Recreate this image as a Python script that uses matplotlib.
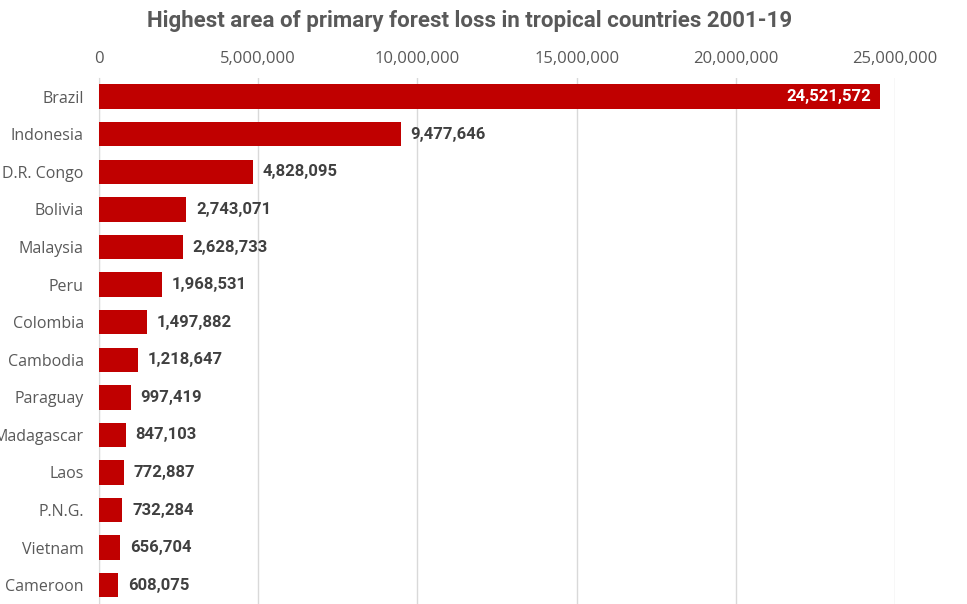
import matplotlib.pyplot as plt
from matplotlib.ticker import FuncFormatter

countries = ['Brazil', 'Indonesia', 'D.R. Congo', 'Bolivia', 'Malaysia', 'Peru',
             'Colombia', 'Cambodia', 'Paraguay', 'Madagascar', 'Laos', 'P.N.G.',
             'Vietnam', 'Cameroon']
loss = [24521572, 9477646, 4828095, 2743071, 2628733, 1968531, 1497882,
        1218647, 997419, 847103, 772887, 732284, 656704, 608075]
xticks = [0, 5000000, 10000000, 15000000, 20000000, 25000000]

red = '#C00000'
grey = '#595959'

fig = plt.figure(figsize=(9.67, 6.04), dpi=100)
ax = fig.add_axes([0.1024, 0.0, 0.8232, 0.871])

y = list(range(len(countries)))
ax.barh(y, loss, height=0.65, color=red, zorder=3)
ax.set_ylim(len(countries) - 0.5, -0.5)
ax.set_xlim(0, 25000000)

ax.set_xticks(xticks)
ax.xaxis.set_major_formatter(FuncFormatter(lambda v, p: f'{int(v):,}'))
ax.xaxis.tick_top()
ax.tick_params(axis='x', length=0, pad=8, labelsize=12, labelcolor=grey)
ax.tick_params(axis='y', length=0, pad=11, labelsize=11.5, labelcolor=grey)
ax.set_yticks(y)
ax.set_yticklabels(countries)
for lbl in ax.get_xticklabels() + ax.get_yticklabels():
    lbl.set_family('Open Sans')

ax.grid(axis='x', color='#d9d9d9', linewidth=1, zorder=0)
for s in ['top', 'right', 'bottom']:
    ax.spines[s].set_visible(False)
ax.spines['left'].set_color('#d9d9d9')

for i, v in enumerate(loss):
    if i == 0:
        ax.annotate(f'{v:,}', (v, i), xytext=(-6, 0), textcoords='offset points',
                    ha='right', va='center', color='white', fontsize=12,
                    fontweight='bold', family='Roboto')
    else:
        ax.annotate(f'{v:,}', (v, i), xytext=(7, 0), textcoords='offset points',
                    ha='left', va='center', color='#404040', fontsize=12,
                    fontweight='bold', family='Roboto')

fig.text(0.486, 0.965, 'Highest area of primary forest loss in tropical countries 2001-19',
         ha='center', va='center', fontsize=16, fontweight='bold', color=grey,
         family='Roboto')

fig.savefig('out.png', dpi=100)
